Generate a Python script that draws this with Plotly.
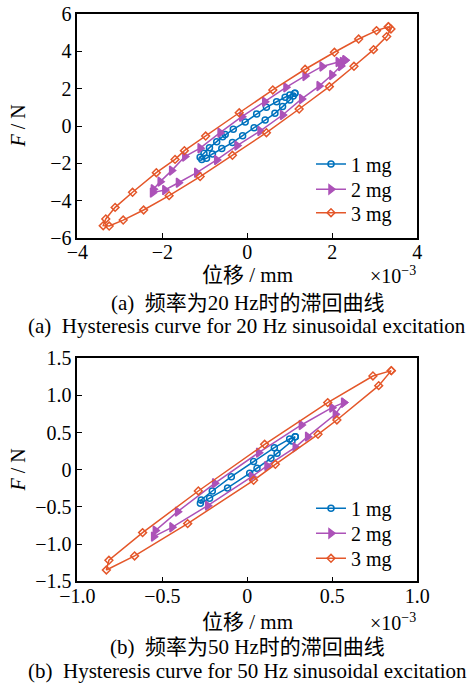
import plotly.graph_objects as go

# ---------------- data (x in units of 1e-3 mm, F in N) ----------------
series_names = ["1 mg", "2 mg", "3 mg"]

x20_1 = [1.12, 1.00, 0.89, 0.69, 0.45, 0.22, -0.05, -0.33, -0.52, -0.58, -0.72, -0.89, -1.02, -1.11, -1.07,
         -0.96, -0.82, -0.60, -0.35, -0.11, 0.16, 0.42, 0.65, 0.83, 1.00, 1.08, 1.12]
y20_1 = [1.75, 1.66, 1.54, 1.30, 1.00, 0.64, 0.21, -0.18, -0.45, -0.57, -0.84, -1.16, -1.46, -1.68, -1.79,
         -1.73, -1.50, -1.21, -0.89, -0.52, -0.09, 0.32, 0.68, 1.04, 1.39, 1.61, 1.75]

x20_2 = [2.30, 2.14, 1.76, 1.36, 0.91, 0.41, -0.13, -0.64, -1.11, -1.47, -1.78, -2.05, -2.21, -2.23,
         -1.94, -1.62, -1.19, -0.72, -0.24, 0.30, 0.83, 1.28, 1.69, 1.99, 2.20, 2.24, 2.30]
y20_2 = [3.52, 3.43, 3.19, 2.68, 2.07, 1.30, 0.50, -0.36, -1.19, -1.64, -2.39, -2.98, -3.39, -3.57,
         -3.43, -3.04, -2.50, -1.82, -1.05, -0.27, 0.59, 1.45, 2.14, 2.73, 3.21, 3.43, 3.52]

x20_3 = [3.32, 3.04, 2.62, 2.05, 1.36, 0.60, -0.19, -0.98, -1.48, -1.70, -2.14, -2.70, -3.11, -3.33, -3.39,
         -3.25, -2.92, -2.44, -1.84, -1.11, -0.35, 0.45, 1.22, 1.93, 2.51, 2.97, 3.28, 3.38, 3.32]
y20_3 = [5.32, 5.11, 4.66, 3.95, 3.04, 1.93, 0.71, -0.54, -1.32, -1.79, -2.50, -3.55, -4.36, -4.98, -5.34,
         -5.36, -5.04, -4.50, -3.73, -2.71, -1.57, -0.36, 0.91, 2.11, 3.20, 4.09, 4.79, 5.20, 5.32]

x50_1 = [0.282, 0.249, 0.159, 0.037, -0.094, -0.206, -0.271, -0.276, -0.222, -0.116, 0.014, 0.057, 0.139, 0.175, 0.263, 0.282]
y50_1 = [0.446, 0.415, 0.298, 0.110, -0.092, -0.285, -0.406, -0.451, -0.383, -0.244, -0.047, 0.020, 0.155, 0.222, 0.388, 0.446]

x50_2 = [0.567, 0.498, 0.318, 0.067, -0.192, -0.410, -0.541, -0.551, -0.443, -0.233, 0.027, 0.116, 0.282, 0.355, 0.518, 0.567]
y50_2 = [0.904, 0.836, 0.603, 0.231, -0.182, -0.563, -0.818, -0.899, -0.774, -0.482, -0.092, 0.052, 0.303, 0.446, 0.747, 0.904]

x50_3 = [0.847, 0.739, 0.473, 0.102, -0.288, -0.616, -0.814, -0.829, -0.663, -0.351, 0.037, 0.165, 0.416, 0.527, 0.773, 0.847]
y50_3 = [1.334, 1.262, 0.904, 0.343, -0.285, -0.845, -1.217, -1.348, -1.159, -0.724, -0.141, 0.074, 0.478, 0.670, 1.132, 1.334]

x20_ticks = [-4, -2, 0, 2, 4]
x20_ticktext = ["−4", "−2", "0", "2", "4"]
y20_ticks = [-6, -4, -2, 0, 2, 4, 6]
y20_ticktext = ["−6", "−4", "−2", "0", "2", "4", "6"]
x50_ticks = [-1.0, -0.5, 0, 0.5, 1.0]
x50_ticktext = ["−1.0", "−0.5", "0", "0.5", "1.0"]
y50_ticks = [-1.5, -1.0, -0.5, 0, 0.5, 1.0, 1.5]
y50_ticktext = ["−1.5", "−1.0", "−0.5", "0", "0.5", "1.0", "1.5"]

xlabel = "位移 / mm"
ylabel = "<i>F</i> / N"
scale_text = "×10<sup>−3</sup>"
caption_a_cn = "(a)  频率为20 Hz时的滞回曲线"
caption_a_en = "(a)  Hysteresis curve for 20 Hz sinusoidal excitation"
caption_b_cn = "(b)  频率为50 Hz时的滞回曲线"
caption_b_en = "(b)  Hysteresis curve for 50 Hz sinusoidal excitation"

# ---------------- styling ----------------
W, H = 471, 685
FONT = "Liberation Serif, Times New Roman, Noto Sans CJK SC, serif"
colors = ["#0072BD", "#AC52B8", "#E4572A"]
symbols = ["circle-open", "triangle-right", "diamond-open"]
msizes = [6, 8, 6]


def px_x(p):
    return p / W


def px_y(p):
    return 1 - p / H


fig = go.Figure()

top = [(x20_1, y20_1), (x20_2, y20_2), (x20_3, y20_3)]
bot = [(x50_1, y50_1), (x50_2, y50_2), (x50_3, y50_3)]

# one legend per entry so each entry can be placed where the reference has it
top_legend_y = [164, 189.3, 212.7]
bot_legend_y = [508.3, 533.3, 558.3]
legend_x = 311

legend_layout = {}
for panel, (data, axes, ys_leg) in enumerate([(top, ("x", "y"), top_legend_y),
                                               (bot, ("x2", "y2"), bot_legend_y)]):
    for i, (xs, ys) in enumerate(data):
        k = panel * 3 + i + 1
        lname = "legend" if k == 1 else f"legend{k}"
        fig.add_trace(go.Scatter(
            x=xs, y=ys, mode="lines+markers", name=series_names[i],
            line=dict(color=colors[i], width=1.5),
            marker=dict(symbol=symbols[i], size=msizes[i], color=colors[i],
                        line=dict(width=1.5, color=colors[i])),
            xaxis=axes[0], yaxis=axes[1], legend=lname))
        legend_layout[lname] = dict(
            x=px_x(legend_x), y=px_y(ys_leg[i]), xanchor="left", yanchor="middle",
            bgcolor="rgba(0,0,0,0)", borderwidth=0, itemwidth=30,
            font=dict(family=FONT, size=20, color="black"))

axis_common = dict(
    showline=True, linecolor="black", linewidth=1.5, mirror=True,
    ticks="inside", ticklen=5, tickwidth=1, tickcolor="black",
    showgrid=False, zeroline=False, automargin=False,
    tickfont=dict(family=FONT, size=20, color="black"),
)

x_dom = [px_x(77.3), px_x(417.3)]

fig.update_layout(
    width=W, height=H,
    margin=dict(l=0, r=0, t=0, b=0, pad=0, autoexpand=False),
    paper_bgcolor="white", plot_bgcolor="white",
    font=dict(family=FONT, size=20, color="black"),
    showlegend=True,
    xaxis=dict(domain=x_dom, range=[-4, 4], tickvals=x20_ticks, ticktext=x20_ticktext,
               anchor="y", ticklabelstandoff=-5, **axis_common),
    yaxis=dict(domain=[px_y(238), px_y(14)], range=[-6, 6], tickvals=y20_ticks, ticktext=y20_ticktext,
               anchor="x", ticklabelstandoff=0, **axis_common),
    xaxis2=dict(domain=x_dom, range=[-1.0, 1.0], tickvals=x50_ticks, ticktext=x50_ticktext,
                anchor="y2", ticklabelstandoff=-4, **axis_common),
    yaxis2=dict(domain=[px_y(581.3), px_y(358.3)], range=[-1.5, 1.5], tickvals=y50_ticks, ticktext=y50_ticktext,
                anchor="x2", ticklabelstandoff=0, **axis_common),
    **legend_layout,
)

ann = []


def add_text(text, x, y, size=20, xanchor="center", yanchor="middle", angle=0):
    ann.append(dict(text=text, x=px_x(x), y=px_y(y), xref="paper", yref="paper",
                    xanchor=xanchor, yanchor=yanchor, showarrow=False, textangle=angle,
                    font=dict(family=FONT, size=size, color="black")))


# top panel
add_text(ylabel, 17.5, 126, angle=-90)
add_text(xlabel, 247.3, 275, size=21)
add_text(scale_text, 418, 275, xanchor="right")
add_text(caption_a_cn, 247.5, 303, size=21)
add_text(caption_a_en, 247, 326, size=21)
# bottom panel
add_text(ylabel, 17.5, 470, angle=-90)
add_text(xlabel, 247.3, 622, size=21)
add_text(scale_text, 418, 622, xanchor="right")
add_text(caption_b_cn, 247.5, 646.5, size=21)
add_text(caption_b_en, 247, 670.5, size=21)

fig.update_layout(annotations=ann)

fig.write_html(
    "out.html",
    config={"displayModeBar": False},
    post_script="document.body.style.margin='0px';document.body.style.padding='0px';"
                "document.documentElement.style.overflow='hidden';",
)
